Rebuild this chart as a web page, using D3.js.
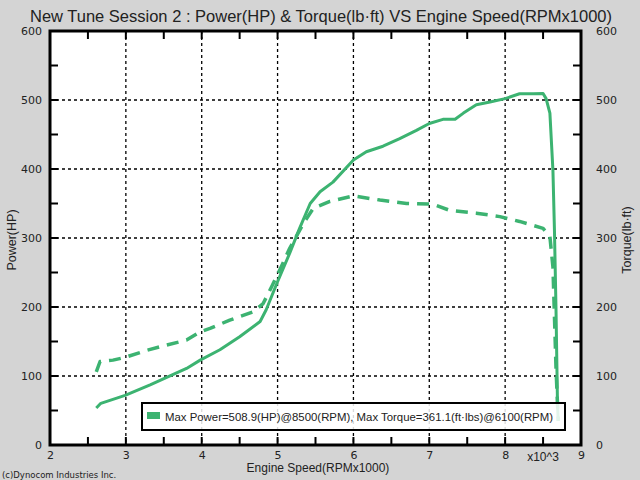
<!DOCTYPE html>
<html><head><meta charset="utf-8">
<script src="https://cdn.jsdelivr.net/npm/d3@7"></script>
<style>body{margin:0;background:#d4d4d4;}svg{display:block;}</style>
</head><body>
<svg id="c" width="640" height="480"></svg>
<script>
const powerRpm = [2.61, 2.67, 2.99, 3.32, 3.80, 3.98, 4.24, 4.50, 4.77, 4.85, 4.99, 5.16, 5.29, 5.43, 5.56, 5.73, 6.00, 6.17, 6.39, 6.61, 6.83, 7.00, 7.18, 7.34, 7.45, 7.62, 7.80, 8.00, 8.19, 8.37, 8.50, 8.54, 8.59, 8.63, 8.65, 8.67, 8.69, 8.70];
const powerHp = [53.6, 60.4, 72, 87, 111, 123, 138, 157, 179, 196, 234, 278, 314, 350, 367, 381, 413, 425, 433, 444, 456, 466, 472, 472, 481, 493, 497, 502, 509, 509, 509.5, 502, 481, 398, 311, 200, 60, 35];
const torqueRpm = [2.61, 2.66, 2.83, 2.99, 3.27, 3.54, 3.80, 3.98, 4.11, 4.37, 4.68, 4.81, 4.92, 5.03, 5.16, 5.34, 5.47, 5.69, 6.00, 6.35, 6.70, 7.05, 7.27, 7.62, 7.93, 8.19, 8.50, 8.59, 8.63, 8.65, 8.67, 8.69, 8.70];
const torqueLbft = [106, 121, 123, 127, 137, 145, 152, 164, 169, 181, 193, 205, 229, 254, 285, 321, 343, 353, 361, 355, 350, 349, 340, 336, 331, 324, 314, 302, 258, 186, 113, 60, 35];
const xTicks = [2, 3, 4, 5, 6, 7, 8, 9];
const yTicks = [0, 100, 200, 300, 400, 500, 600];
const titleText = "New Tune Session 2 : Power(HP) & Torque(lb\u00b7ft) VS Engine Speed(RPMx1000)";
const legendText = "Max Power=508.9(HP)@8500(RPM), Max Torque=361.1(ft\u00b7lbs)@6100(RPM)";

const svg = d3.select("#c");
const L = 50, R = 581, T = 31, B = 445;
const x = d3.scaleLinear().domain([2, 9]).range([L, R]);
const y = d3.scaleLinear().domain([0, 600]).range([B, T]);
const green = "#3cb371";

svg.append("rect").attr("width", 640).attr("height", 480).attr("fill", "#d4d4d4");
svg.append("rect").attr("x", L).attr("y", T).attr("width", R - L).attr("height", B - T).attr("fill", "#fff");

// grid
const g = svg.append("g");
xTicks.filter(d => d > 2 && d < 9).forEach(d => {
  g.append("line").attr("x1", x(d)).attr("x2", x(d)).attr("y1", T).attr("y2", B)
   .attr("stroke", "#000").attr("stroke-width", 1.3).attr("stroke-dasharray", "3,3");
});
yTicks.filter(d => d > 0 && d < 600).forEach(d => {
  g.append("line").attr("x1", L).attr("x2", R).attr("y1", y(d)).attr("y2", y(d))
   .attr("stroke", "#000").attr("stroke-width", 1.3).attr("stroke-dasharray", "3,3");
});

// inward ticks
const xMinor = d3.range(2, 9.01, 0.5);
const yMinor = d3.range(0, 600.1, 50);
xMinor.forEach(d => {
  g.append("line").attr("x1", x(d)).attr("x2", x(d)).attr("y1", B).attr("y2", B - 8).attr("stroke", "#000").attr("stroke-width", 2);
  g.append("line").attr("x1", x(d)).attr("x2", x(d)).attr("y1", T).attr("y2", T + 8).attr("stroke", "#000").attr("stroke-width", 2);
});
yMinor.forEach(d => {
  g.append("line").attr("x1", L).attr("x2", L + 8).attr("y1", y(d)).attr("y2", y(d)).attr("stroke", "#000").attr("stroke-width", 2);
  g.append("line").attr("x1", R).attr("x2", R - 8).attr("y1", y(d)).attr("y2", y(d)).attr("stroke", "#000").attr("stroke-width", 2);
});

// lines
const lineT = d3.line().x(d => x(d[0])).y(d => y(d[1]));
svg.append("path").datum(torqueRpm.map((r, i) => [r, torqueLbft[i]]))
  .attr("d", lineT).attr("fill", "none").attr("stroke", green).attr("stroke-width", 3.5)
  .attr("stroke-dasharray", "12,8").attr("stroke-linejoin", "round");
svg.append("path").datum(powerRpm.map((r, i) => [r, powerHp[i]]))
  .attr("d", lineT).attr("fill", "none").attr("stroke", green).attr("stroke-width", 3)
  .attr("stroke-linejoin", "round");

// frame
svg.append("rect").attr("x", L).attr("y", T).attr("width", R - L).attr("height", B - T)
  .attr("fill", "none").attr("stroke", "#000").attr("stroke-width", 3);

// tick labels via d3 axes
const axB = d3.axisBottom(x).tickValues(xTicks).tickSize(0).tickPadding(4).tickFormat(d3.format("d"));
const gb = svg.append("g").attr("transform", `translate(0,${B + 2})`).call(axB);
const axL = d3.axisLeft(y).tickValues(yTicks).tickSize(0).tickPadding(8);
const gl = svg.append("g").attr("transform", `translate(${L},0)`).call(axL);
const axR = d3.axisRight(y).tickValues(yTicks).tickSize(0).tickPadding(15);
const gr = svg.append("g").attr("transform", `translate(${R},0)`).call(axR);
[gb, gl, gr].forEach(a => {
  a.select(".domain").remove();
  a.selectAll("text").attr("font-family", "DejaVu Sans, Verdana, sans-serif").attr("font-size", 11).attr("fill", "#222");
});

// title
svg.append("text").attr("x", 321).attr("y", 22).attr("text-anchor", "middle")
  .attr("font-family", "Liberation Sans, Arial, sans-serif").attr("font-size", 16.5).attr("fill", "#222").text(titleText);

// axis titles
const af = "Liberation Sans, Arial, sans-serif";
svg.append("text").attr("transform", "translate(16,240) rotate(-90)").attr("text-anchor", "middle")
  .attr("font-family", af).attr("font-size", 12.5).attr("fill", "#222").text("Power(HP)");
svg.append("text").attr("transform", "translate(631,240) rotate(-90)").attr("text-anchor", "middle")
  .attr("font-family", af).attr("font-size", 12.5).attr("fill", "#222").text("Torque(lb\u00b7ft)");
svg.append("text").attr("x", 318).attr("y", 472).attr("text-anchor", "middle")
  .attr("font-family", af).attr("font-size", 12).attr("fill", "#222").text("Engine Speed(RPMx1000)");
svg.append("text").attr("x", 543).attr("y", 461).attr("text-anchor", "middle")
  .attr("font-family", af).attr("font-size", 12).attr("fill", "#222").text("x10^3");
svg.append("text").attr("x", 2).attr("y", 478)
  .attr("font-family", "DejaVu Sans, Verdana, sans-serif").attr("font-size", 8.5).attr("fill", "#222").text("(c)Dynocom Industries Inc.");

// legend
const lg = svg.append("g");
lg.append("rect").attr("x", 142).attr("y", 403).attr("width", 423).attr("height", 27)
  .attr("fill", "#fff").attr("fill-opacity", 0.85).attr("stroke", "#000").attr("stroke-width", 2);
lg.append("rect").attr("x", 147).attr("y", 412).attr("width", 13).attr("height", 7).attr("fill", green);
lg.append("text").attr("x", 165).attr("y", 420.5).attr("font-family", af).attr("font-size", 11.5)
  .attr("textLength", 388).attr("lengthAdjust", "spacingAndGlyphs")
  .attr("fill", "#222").text(legendText);
</script>
</body></html>
